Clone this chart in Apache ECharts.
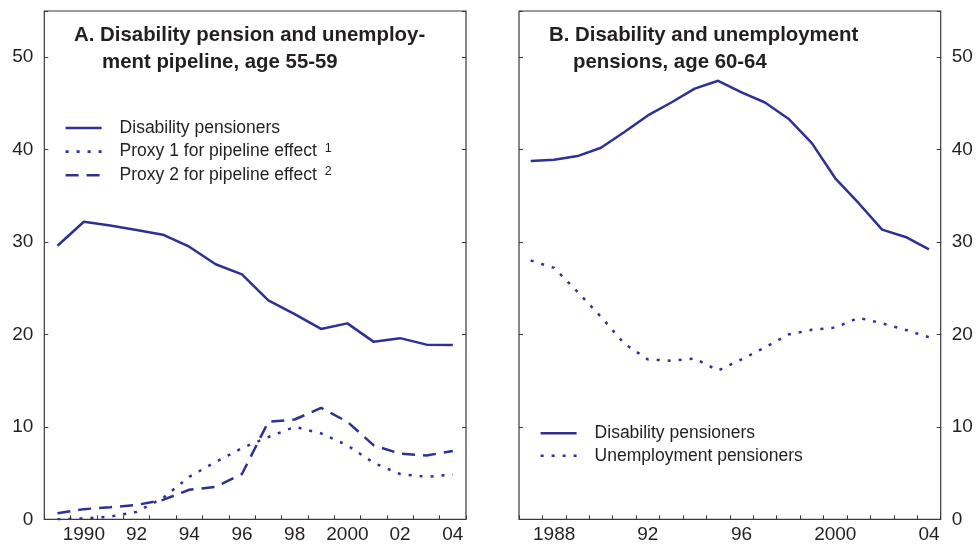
<!DOCTYPE html>
<html>
<head>
<meta charset="utf-8">
<script src="https://cdn.jsdelivr.net/npm/echarts@6/dist/echarts.min.js"></script>
<style>
  html, body { margin: 0; padding: 0; background: #ffffff; }
  #chart { width: 979px; height: 546px; }
</style>
</head>
<body>
<div id="chart"></div>
<script>
// Panel A: age 55-59, per cent of population
const yearsA = ['1989','1990','1991','1992','1993','1994','1995','1996','1997','1998','1999','2000','2001','2002','2003','2004'];
const disabilityA = [29.6, 32.2, 31.8, 31.3, 30.8, 29.5, 27.6, 26.5, 23.7, 22.2, 20.6, 21.2, 19.2, 19.6, 18.9, 18.85];
const proxy1A = [0, 0.1, 0.3, 0.8, 2.3, 4.6, 6.2, 7.7, 8.9, 10.0, 9.3, 8.0, 6.1, 4.9, 4.6, 4.85];
const proxy2A = [0.65, 1.1, 1.3, 1.55, 2.1, 3.2, 3.5, 4.9, 10.55, 10.8, 12.05, 10.55, 8.0, 7.1, 6.9, 7.4];
const tickYearsA = ['1990','1992','1994','1996','1998','2000','2002','2004'];
const tickTextA = ['1990','92','94','96','98','2000','02','04'];
const namesA = ['Disability pensioners', 'Proxy 1 for pipeline effect', 'Proxy 2 for pipeline effect'];
const footnotesA = ['', '1', '2'];

// Panel B: age 60-64
const yearsB = ['1987','1988','1989','1990','1991','1992','1993','1994','1995','1996','1997','1998','1999','2000','2001','2002','2003','2004'];
const disabilityB = [38.77, 38.9, 39.3, 40.2, 41.9, 43.7, 45.1, 46.6, 47.45, 46.2, 45.1, 43.35, 40.7, 36.9, 34.2, 31.35, 30.55, 29.2];
const unemploymentB = [28.0, 27.2, 24.6, 21.9, 19.0, 17.3, 17.15, 17.4, 16.1, 17.3, 18.6, 20.0, 20.5, 20.75, 21.8, 21.2, 20.5, 19.7];
const tickYearsB = ['1988','1992','1996','2000','2004'];
const tickTextB = ['1988','92','96','2000','04'];
const namesB = ['Disability pensioners', 'Unemployment pensioners'];

const yTicks = [0, 10, 20, 30, 40, 50];

const INK = '#231f20';
const FRAME = '#3a3a3a';
const NAVY = '#2e3192';
const FONT = '"Liberation Sans", Arial, Helvetica, sans-serif';
const DOTS = [3, 8];
const DASHES = [13, 8];

const chart = echarts.init(document.getElementById('chart'), null, { renderer: 'canvas' });

function xAxisFor(grid, years, tickYears, tickText) {
  return {
    gridIndex: grid, type: 'category', data: years, boundaryGap: true,
    axisLine: { show: false },
    axisTick: { show: true, inside: true, length: 4, interval: 0, lineStyle: { color: FRAME, width: 1 } },
    axisLabel: {
      interval: (i, v) => tickYears.includes(v),
      formatter: v => tickText[tickYears.indexOf(v)],
      fontSize: 19, color: INK, fontFamily: FONT, margin: 6
    },
    splitLine: { show: false }
  };
}

function yAxisFor(grid, position, labelled) {
  return {
    gridIndex: grid, type: 'value', position: position, min: 0, max: 55, interval: 10,
    axisLine: { show: false },
    axisTick: { show: true, inside: true, length: 4, lineStyle: { color: FRAME, width: 1 } },
    axisLabel: {
      show: labelled, fontSize: 19, color: INK, fontFamily: FONT, margin: 11,
      formatter: v => (yTicks.includes(v) ? String(v) : '')
    },
    splitLine: { show: false }
  };
}

function legendFormatter(names, notes) {
  return name => {
    const i = names.indexOf(name);
    const note = notes[i] ? '{s|' + notes[i] + '}' : '';
    return '{g|}{t|' + name + '}' + note;
  };
}

const legendText = {
  fontSize: 17.5, color: INK, fontFamily: FONT,
  rich: {
    g: { width: 13 },
    t: { fontSize: 17.5, color: INK, fontFamily: FONT, lineHeight: 20 },
    s: { fontSize: 12.5, color: INK, fontFamily: FONT, verticalAlign: 'top', lineHeight: 12, padding: [0, 0, 0, 8] }
  }
};

const titleStyle = { fontSize: 20.4, fontWeight: 'bold', color: INK, fontFamily: FONT };

function lineSeries(name, xi, yi, data, type) {
  return {
    name: name, type: 'line', xAxisIndex: xi, yAxisIndex: yi, data: data,
    symbol: 'none', showSymbol: false, smooth: false, silent: true,
    lineStyle: { color: NAVY, width: 2.5, type: type, cap: 'butt' },
    itemStyle: { color: NAVY }
  };
}

// legend keys: the series line only, no marker
const legendKey = {
  itemWidth: 36, itemHeight: 14,
  itemStyle: { opacity: 0 },
  lineStyle: { width: 2.6, inactiveWidth: 2.6 }
};

chart.setOption({
  animation: false,
  backgroundColor: '#ffffff',
  title: [
    { text: 'A. Disability pension and unemploy-', left: 74, top: 25, padding: 0, textStyle: titleStyle },
    { text: 'ment pipeline, age 55-59', left: 102, top: 52, padding: 0, textStyle: titleStyle },
    { text: 'B. Disability and unemployment', left: 549, top: 25, padding: 0, textStyle: titleStyle },
    { text: 'pensions, age 60-64', left: 573, top: 52, padding: 0, textStyle: titleStyle }
  ],
  grid: [
    { left: 44.3, right: 513, top: 11, bottom: 26.7, show: true, borderColor: FRAME, borderWidth: 1.2, backgroundColor: 'transparent' },
    { left: 519, right: 38.3, top: 11, bottom: 26.7, show: true, borderColor: FRAME, borderWidth: 1.2, backgroundColor: 'transparent' }
  ],
  xAxis: [
    xAxisFor(0, yearsA, tickYearsA, tickTextA),
    xAxisFor(1, yearsB, tickYearsB, tickTextB)
  ],
  yAxis: [
    yAxisFor(0, 'left', true),
    yAxisFor(0, 'right', false),
    yAxisFor(1, 'left', false),
    yAxisFor(1, 'right', true)
  ],
  legend: [
    Object.assign({
      data: namesA, orient: 'vertical', left: 64.3, top: 119, padding: 0,
      itemGap: 4.6, selectedMode: false,
      formatter: legendFormatter(namesA, footnotesA), textStyle: legendText
    }, legendKey),
    Object.assign({
      data: namesB, orient: 'vertical', left: 539.3, top: 424.2, padding: 0,
      itemGap: 4.6, selectedMode: false,
      formatter: legendFormatter(namesB, ['', '']), textStyle: legendText
    }, legendKey)
  ],
  series: [
    lineSeries(namesA[0], 0, 0, disabilityA, 'solid'),
    lineSeries(namesA[1], 0, 0, proxy1A, DOTS),
    lineSeries(namesA[2], 0, 0, proxy2A, DASHES),
    lineSeries(namesB[0], 1, 3, disabilityB, 'solid'),
    lineSeries(namesB[1], 1, 3, unemploymentB, DOTS)
  ]
});
</script>
</body>
</html>
